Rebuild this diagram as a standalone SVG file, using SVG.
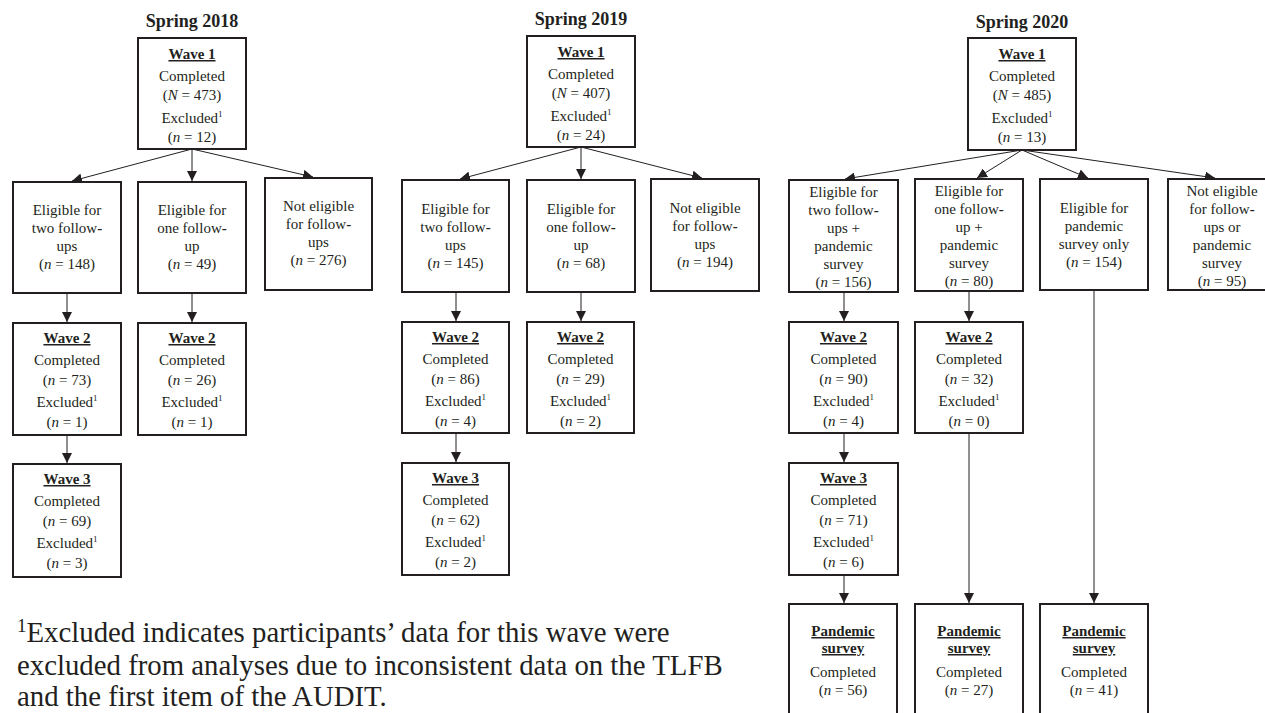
<svg xmlns="http://www.w3.org/2000/svg" width="1265" height="713" viewBox="0 0 1265 713">
<style>
text{font-family:"Liberation Serif","Times New Roman",serif;fill:#231f20;}
.t{font-size:15px;text-anchor:middle;}
.h{font-size:15px;text-anchor:middle;font-weight:bold;text-decoration:underline;}
.ttl{font-size:18px;text-anchor:middle;font-weight:bold;}
.fn{font-size:28.8px;}
.box{fill:#fff;stroke:#231f20;stroke-width:2;}
.c line{stroke:#231f20;stroke-width:1;marker-end:url(#ah);}
.s{font-size:9px;}
.b{font-weight:bold;}
</style>
<defs>
<marker id="ah" viewBox="0 0 10 10" refX="10" refY="5" markerWidth="10" markerHeight="10" markerUnits="userSpaceOnUse" orient="auto"><path d="M0,0 L10,5 L0,10 z" fill="#231f20"/></marker>
</defs>
<rect width="1265" height="713" fill="#fff"/>

<g id="titles">
<text class="ttl" x="192" y="27">Spring 2018</text>
<text class="ttl" x="581" y="25">Spring 2019</text>
<text class="ttl" x="1022" y="28">Spring 2020</text>
</g>

<g class="c" id="connectors">
<line x1="192" y1="149" x2="72" y2="181"/>
<line x1="192" y1="149" x2="192" y2="181"/>
<line x1="192" y1="149" x2="313" y2="177"/>
<line x1="67" y1="293" x2="67" y2="322"/>
<line x1="192" y1="293" x2="192" y2="322"/>
<line x1="67" y1="435" x2="67" y2="463"/>

<line x1="581" y1="147" x2="460" y2="179"/>
<line x1="581" y1="147" x2="581" y2="179"/>
<line x1="581" y1="147" x2="702" y2="178"/>
<line x1="456" y1="292" x2="456" y2="321"/>
<line x1="581" y1="292" x2="581" y2="321"/>
<line x1="456" y1="433" x2="456" y2="462"/>

<line x1="1022" y1="150" x2="845" y2="179"/>
<line x1="1022" y1="150" x2="977" y2="178"/>
<line x1="1022" y1="150" x2="1088" y2="178"/>
<line x1="1022" y1="150" x2="1215" y2="178"/>
<line x1="844" y1="292" x2="844" y2="321"/>
<line x1="969" y1="291" x2="969" y2="321"/>
<line x1="844" y1="433" x2="844" y2="462"/>
<line x1="844" y1="575" x2="844" y2="603"/>
<line x1="969" y1="433" x2="969" y2="603"/>
<line x1="1094" y1="290" x2="1094" y2="603"/>
</g>

<!-- Spring 2018 -->
<g id="s18-w1">
<rect class="box" x="138" y="38" width="108" height="111"/>
<text class="h" x="192" y="59">Wave 1</text>
<text class="t" x="192" y="81">Completed</text>
<text class="t" x="192" y="100">(<tspan font-style="italic">N</tspan> = 473)</text>
<text class="t" x="192" y="123">Excluded<tspan class="s" dy="-6">1</tspan></text>
<text class="t" x="192" y="142">(<tspan font-style="italic">n</tspan> = 12)</text>
</g>
<g id="s18-e1">
<rect class="box" x="13" y="182" width="108" height="111"/>
<text class="t" x="67" y="215">Eligible for</text>
<text class="t" x="67" y="233">two follow<tspan class="b">-</tspan></text>
<text class="t" x="67" y="251">ups</text>
<text class="t" x="67" y="269">(<tspan font-style="italic">n</tspan> = 148)</text>
</g>
<g id="s18-e2">
<rect class="box" x="138" y="182" width="108" height="111"/>
<text class="t" x="192" y="215">Eligible for</text>
<text class="t" x="192" y="233">one follow<tspan class="b">-</tspan></text>
<text class="t" x="192" y="251">up</text>
<text class="t" x="192" y="269">(<tspan font-style="italic">n</tspan> = 49)</text>
</g>
<g id="s18-e3">
<rect class="box" x="265" y="178" width="107" height="112"/>
<text class="t" x="318.5" y="211">Not eligible</text>
<text class="t" x="318.5" y="229">for follow<tspan class="b">-</tspan></text>
<text class="t" x="318.5" y="247">ups</text>
<text class="t" x="318.5" y="265">(<tspan font-style="italic">n</tspan> = 276)</text>
</g>
<g id="s18-w2a">
<rect class="box" x="13" y="323" width="108" height="112"/>
<text class="h" x="67" y="343">Wave 2</text>
<text class="t" x="67" y="365">Completed</text>
<text class="t" x="67" y="385">(<tspan font-style="italic">n</tspan> = 73)</text>
<text class="t" x="67" y="407">Excluded<tspan class="s" dy="-6">1</tspan></text>
<text class="t" x="67" y="427">(<tspan font-style="italic">n</tspan> = 1)</text>
</g>
<g id="s18-w2b">
<rect class="box" x="138" y="323" width="108" height="112"/>
<text class="h" x="192" y="343">Wave 2</text>
<text class="t" x="192" y="365">Completed</text>
<text class="t" x="192" y="385">(<tspan font-style="italic">n</tspan> = 26)</text>
<text class="t" x="192" y="407">Excluded<tspan class="s" dy="-6">1</tspan></text>
<text class="t" x="192" y="427">(<tspan font-style="italic">n</tspan> = 1)</text>
</g>
<g id="s18-w3">
<rect class="box" x="13" y="464" width="108" height="113"/>
<text class="h" x="67" y="484">Wave 3</text>
<text class="t" x="67" y="506">Completed</text>
<text class="t" x="67" y="526">(<tspan font-style="italic">n</tspan> = 69)</text>
<text class="t" x="67" y="548">Excluded<tspan class="s" dy="-6">1</tspan></text>
<text class="t" x="67" y="568">(<tspan font-style="italic">n</tspan> = 3)</text>
</g>

<!-- Spring 2019 -->
<g id="s19-w1">
<rect class="box" x="527" y="36" width="108" height="111"/>
<text class="h" x="581" y="57">Wave 1</text>
<text class="t" x="581" y="79">Completed</text>
<text class="t" x="581" y="98">(<tspan font-style="italic">N</tspan> = 407)</text>
<text class="t" x="581" y="121">Excluded<tspan class="s" dy="-6">1</tspan></text>
<text class="t" x="581" y="140">(<tspan font-style="italic">n</tspan> = 24)</text>
</g>
<g id="s19-e1">
<rect class="box" x="402" y="180" width="107" height="112"/>
<text class="t" x="455.5" y="214">Eligible for</text>
<text class="t" x="455.5" y="232">two follow<tspan class="b">-</tspan></text>
<text class="t" x="455.5" y="250">ups</text>
<text class="t" x="455.5" y="268">(<tspan font-style="italic">n</tspan> = 145)</text>
</g>
<g id="s19-e2">
<rect class="box" x="527" y="180" width="108" height="112"/>
<text class="t" x="581" y="214">Eligible for</text>
<text class="t" x="581" y="232">one follow<tspan class="b">-</tspan></text>
<text class="t" x="581" y="250">up</text>
<text class="t" x="581" y="268">(<tspan font-style="italic">n</tspan> = 68)</text>
</g>
<g id="s19-e3">
<rect class="box" x="651" y="179" width="108" height="112"/>
<text class="t" x="705" y="213">Not eligible</text>
<text class="t" x="705" y="231">for follow<tspan class="b">-</tspan></text>
<text class="t" x="705" y="249">ups</text>
<text class="t" x="705" y="267">(<tspan font-style="italic">n</tspan> = 194)</text>
</g>
<g id="s19-w2a">
<rect class="box" x="402" y="322" width="107" height="111"/>
<text class="h" x="455.5" y="342">Wave 2</text>
<text class="t" x="455.5" y="364">Completed</text>
<text class="t" x="455.5" y="384">(<tspan font-style="italic">n</tspan> = 86)</text>
<text class="t" x="455.5" y="406">Excluded<tspan class="s" dy="-6">1</tspan></text>
<text class="t" x="455.5" y="426">(<tspan font-style="italic">n</tspan> = 4)</text>
</g>
<g id="s19-w2b">
<rect class="box" x="527" y="322" width="107" height="111"/>
<text class="h" x="580.5" y="342">Wave 2</text>
<text class="t" x="580.5" y="364">Completed</text>
<text class="t" x="580.5" y="384">(<tspan font-style="italic">n</tspan> = 29)</text>
<text class="t" x="580.5" y="406">Excluded<tspan class="s" dy="-6">1</tspan></text>
<text class="t" x="580.5" y="426">(<tspan font-style="italic">n</tspan> = 2)</text>
</g>
<g id="s19-w3">
<rect class="box" x="402" y="463" width="107" height="112"/>
<text class="h" x="455.5" y="483">Wave 3</text>
<text class="t" x="455.5" y="505">Completed</text>
<text class="t" x="455.5" y="525">(<tspan font-style="italic">n</tspan> = 62)</text>
<text class="t" x="455.5" y="547">Excluded<tspan class="s" dy="-6">1</tspan></text>
<text class="t" x="455.5" y="567">(<tspan font-style="italic">n</tspan> = 2)</text>
</g>

<!-- Spring 2020 -->
<g id="s20-w1">
<rect class="box" x="968" y="38" width="108" height="112"/>
<text class="h" x="1022" y="59">Wave 1</text>
<text class="t" x="1022" y="81">Completed</text>
<text class="t" x="1022" y="100">(<tspan font-style="italic">N</tspan> = 485)</text>
<text class="t" x="1022" y="123">Excluded<tspan class="s" dy="-6">1</tspan></text>
<text class="t" x="1022" y="142">(<tspan font-style="italic">n</tspan> = 13)</text>
</g>
<g id="s20-e1">
<rect class="box" x="789" y="180" width="109" height="112"/>
<text class="t" x="843.5" y="197">Eligible for</text>
<text class="t" x="843.5" y="215">two follow<tspan class="b">-</tspan></text>
<text class="t" x="843.5" y="233">ups +</text>
<text class="t" x="843.5" y="251">pandemic</text>
<text class="t" x="843.5" y="269">survey</text>
<text class="t" x="843.5" y="287">(<tspan font-style="italic">n</tspan> = 156)</text>
</g>
<g id="s20-e2">
<rect class="box" x="915" y="179" width="108" height="112"/>
<text class="t" x="969" y="196">Eligible for</text>
<text class="t" x="969" y="214">one follow<tspan class="b">-</tspan></text>
<text class="t" x="969" y="232">up +</text>
<text class="t" x="969" y="250">pandemic</text>
<text class="t" x="969" y="268">survey</text>
<text class="t" x="969" y="286">(<tspan font-style="italic">n</tspan> = 80)</text>
</g>
<g id="s20-e3">
<rect class="box" x="1040" y="179" width="108" height="111"/>
<text class="t" x="1094" y="213">Eligible for</text>
<text class="t" x="1094" y="231">pandemic</text>
<text class="t" x="1094" y="249">survey only</text>
<text class="t" x="1094" y="267">(<tspan font-style="italic">n</tspan> = 154)</text>
</g>
<g id="s20-e4">
<rect class="box" x="1168" y="179" width="108" height="111"/>
<text class="t" x="1222" y="196">Not eligible</text>
<text class="t" x="1222" y="214">for follow<tspan class="b">-</tspan></text>
<text class="t" x="1222" y="232">ups or</text>
<text class="t" x="1222" y="250">pandemic</text>
<text class="t" x="1222" y="268">survey</text>
<text class="t" x="1222" y="286">(<tspan font-style="italic">n</tspan> = 95)</text>
</g>
<g id="s20-w2a">
<rect class="box" x="789" y="322" width="109" height="111"/>
<text class="h" x="843.5" y="342">Wave 2</text>
<text class="t" x="843.5" y="364">Completed</text>
<text class="t" x="843.5" y="384">(<tspan font-style="italic">n</tspan> = 90)</text>
<text class="t" x="843.5" y="406">Excluded<tspan class="s" dy="-6">1</tspan></text>
<text class="t" x="843.5" y="426">(<tspan font-style="italic">n</tspan> = 4)</text>
</g>
<g id="s20-w2b">
<rect class="box" x="915" y="322" width="108" height="111"/>
<text class="h" x="969" y="342">Wave 2</text>
<text class="t" x="969" y="364">Completed</text>
<text class="t" x="969" y="384">(<tspan font-style="italic">n</tspan> = 32)</text>
<text class="t" x="969" y="406">Excluded<tspan class="s" dy="-6">1</tspan></text>
<text class="t" x="969" y="426">(<tspan font-style="italic">n</tspan> = 0)</text>
</g>
<g id="s20-w3">
<rect class="box" x="789" y="463" width="109" height="112"/>
<text class="h" x="843.5" y="483">Wave 3</text>
<text class="t" x="843.5" y="505">Completed</text>
<text class="t" x="843.5" y="525">(<tspan font-style="italic">n</tspan> = 71)</text>
<text class="t" x="843.5" y="547">Excluded<tspan class="s" dy="-6">1</tspan></text>
<text class="t" x="843.5" y="567">(<tspan font-style="italic">n</tspan> = 6)</text>
</g>
<g id="s20-p1">
<rect class="box" x="789" y="604" width="108" height="120"/>
<text class="h" x="843" y="636">Pandemic</text>
<text class="h" x="843" y="653">survey</text>
<text class="t" x="843" y="677">Completed</text>
<text class="t" x="843" y="695">(<tspan font-style="italic">n</tspan> = 56)</text>
</g>
<g id="s20-p2">
<rect class="box" x="915" y="604" width="108" height="120"/>
<text class="h" x="969" y="636">Pandemic</text>
<text class="h" x="969" y="653">survey</text>
<text class="t" x="969" y="677">Completed</text>
<text class="t" x="969" y="695">(<tspan font-style="italic">n</tspan> = 27)</text>
</g>
<g id="s20-p3">
<rect class="box" x="1040" y="604" width="108" height="120"/>
<text class="h" x="1094" y="636">Pandemic</text>
<text class="h" x="1094" y="653">survey</text>
<text class="t" x="1094" y="677">Completed</text>
<text class="t" x="1094" y="695">(<tspan font-style="italic">n</tspan> = 41)</text>
</g>

<g id="footnote">
<text class="fn" x="17" y="642"><tspan font-size="19" dy="-10">1</tspan><tspan dy="10">Excluded indicates participants’ data for this wave were</tspan></text>
<text class="fn" x="17" y="675">excluded from analyses due to inconsistent data on the TLFB</text>
<text class="fn" x="17" y="706">and the first item of the AUDIT.</text>
</g>
</svg>
